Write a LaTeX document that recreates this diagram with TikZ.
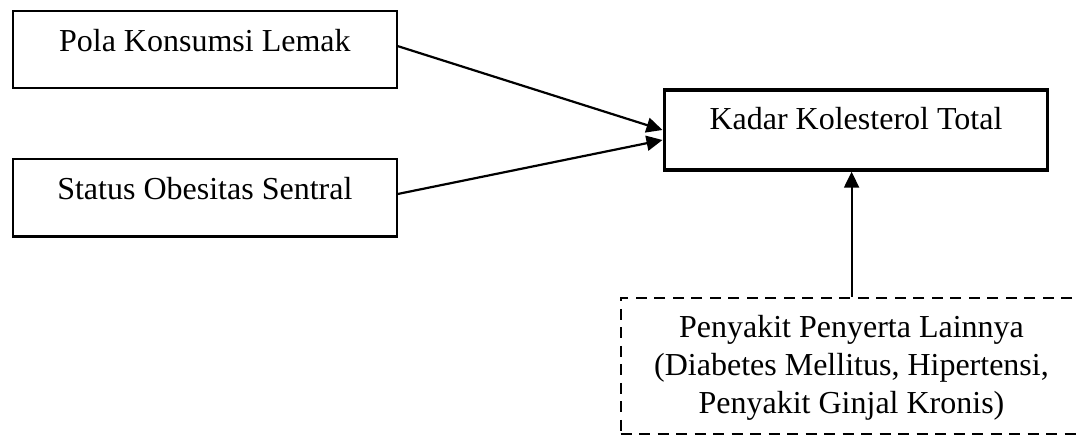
\documentclass[tikz,border=0pt]{standalone}
\usepackage{fontspec}
\setmainfont{Liberation Serif}
\usetikzlibrary{arrows.meta}
\begin{document}
\begin{tikzpicture}[x=1pt,y=-1pt,
  every node/.style={font=\fontsize{32}{38}\selectfont},
  varbox/.style={draw, line width=2.2pt, inner sep=0pt, anchor=north west, text height=40pt},
  mainbox/.style={draw, line width=3.4pt, inner sep=0pt, anchor=north west, text height=40pt},
  confbox/.style={draw, line width=2.2pt, dash pattern=on 11pt off 7.5pt, inner sep=0pt, anchor=north west},
  conn/.style={line width=2.2pt, -{Triangle[length=16pt,width=15pt]}}
]
\useasboundingbox (0,0) rectangle (1080,443);
\clip (0,0) rectangle (1080,443);
\node[varbox, minimum width=383.5pt, text depth=37pt] (b1) at (12,10) {Pola Konsumsi Lemak};
\node[varbox, minimum width=383.5pt, text depth=37.2pt] (b2) at (12,158.3) {Status Obesitas Sentral};
\node[mainbox, minimum width=383.5pt, text depth=40pt] (b3) at (662.5,88.3) {Kadar Kolesterol Total};
\node[confbox, minimum width=500pt, minimum height=136pt] (b4) at (619.5,296.7) {};
\node[align=center, inner sep=0pt] (t4) at (851.5,368) {Penyakit Penyerta Lainnya\\(Diabetes Mellitus, Hipertensi,\\Penyakit Ginjal Kronis)};
\draw[conn] ([yshift=3.5pt]b1.east) -- (b3.west);
\draw[conn] ([yshift=4pt]b2.east) -- ([yshift=-10pt]b3.west);
\draw[conn] ([xshift=-19pt]b4.north) -- ([xshift=-19pt]b4.north |- b3.south);
\end{tikzpicture}
\end{document}
